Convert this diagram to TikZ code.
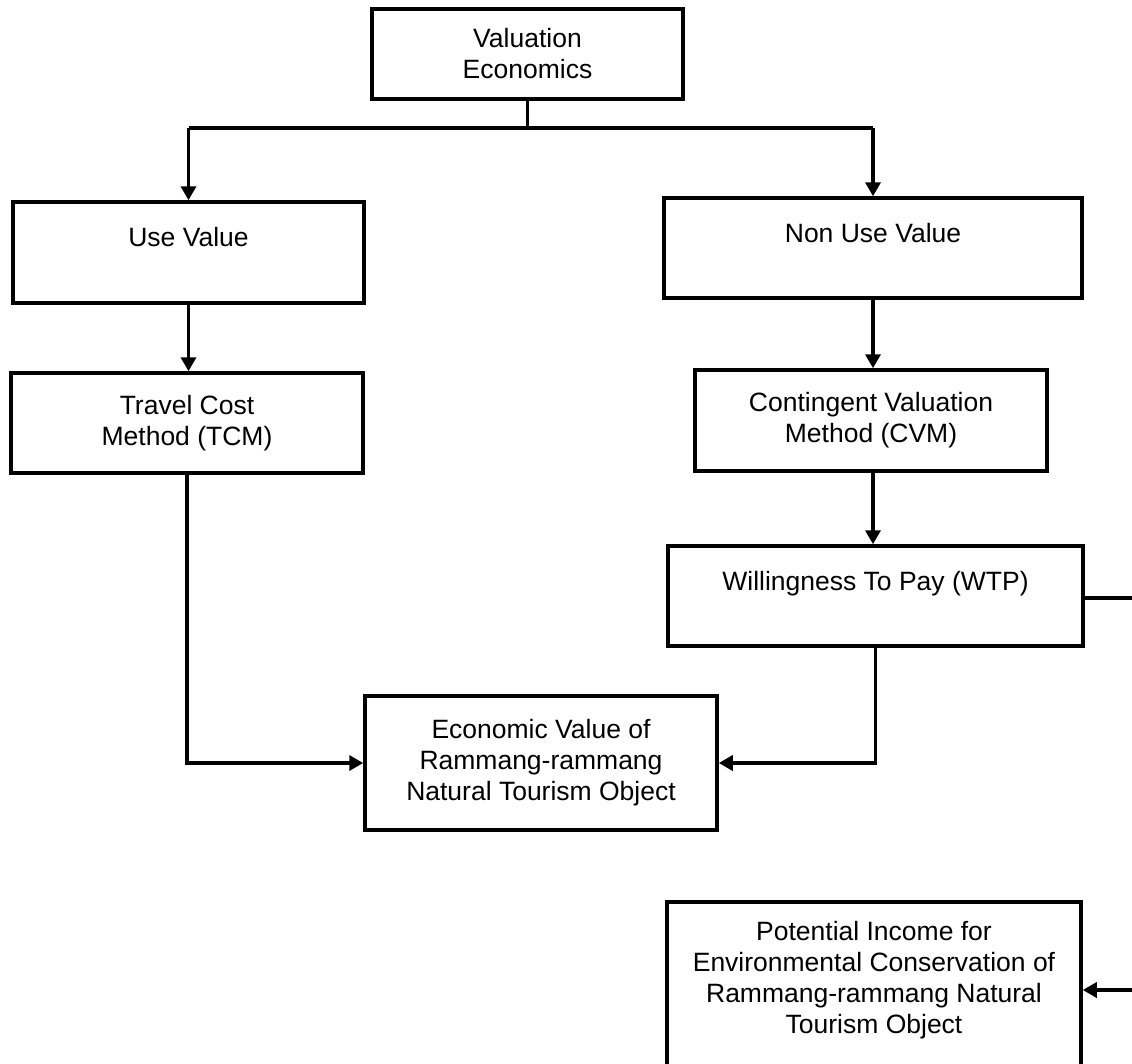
\documentclass[tikz,border=0pt]{standalone}
\usepackage{fontspec}
\setmainfont{Liberation Sans}
\usepackage{tikz}
\usetikzlibrary{arrows.meta,positioning,calc}
\tikzset{blk/.style={draw, rectangle, line width=3.5pt, align=center, inner sep=0pt, font=\fontsize{26.5}{31}\selectfont}}
\tikzstyle{conn}=[line width=3.5pt]

\begin{document}
\begin{tikzpicture}[x=1pt, y=-1pt, >={Triangle[width=15pt,length=14pt]}]
\useasboundingbox (0,0) rectangle (1132,1063);
\clip (0,0) rectangle (1132,1063);
% boxes
\node[blk, minimum width=311pt, minimum height=90pt] (val) at (527.5,54) {Valuation\\Economics};
\node[blk, minimum width=351pt, minimum height=101pt] (use) at (188.5,252.5) {Use Value\\\mbox{}};
\node[blk, minimum width=418pt, minimum height=100pt] (nonuse) at (873,248) {Non Use Value\\\mbox{}};
\node[blk, minimum width=352pt, minimum height=100pt] (tcm) at (187,423) {Travel Cost\\Method (TCM)};
\node[blk, minimum width=352pt, minimum height=101pt] (cvm) at (871,420.5) {Contingent Valuation\\Method (CVM)};
\node[blk, minimum width=415pt, minimum height=100pt] (wtp) at (875.5,596) {Willingness To Pay (WTP)\\\mbox{}};
\node[blk, minimum width=352pt, minimum height=134pt] (econ) at (541,763) {Economic Value of\\Rammang-rammang\\Natural Tourism Object};
\node[blk, minimum width=414pt, minimum height=181pt] (inc) at (874,992.5) {Potential Income for\\Environmental Conservation of\\Rammang-rammang Natural\\Tourism Object\\\mbox{}};
\coordinate (outw) at (1132,598);
\coordinate (outi) at (1132,990);
% connectors
\draw[conn] (val.south) -- ++(0,27) coordinate (split);
\draw[conn] (split -| use.north) -- (split -| nonuse.north);
\draw[conn,->] (split -| use.north) -- (use.north);
\draw[conn,->] (split -| nonuse.north) -- (nonuse.north);
\draw[conn,->] (use.south) -- (use.south |- tcm.north);
\draw[conn,->] (nonuse.south) -- (nonuse.south |- cvm.north);
\draw[conn,->] (nonuse.south |- cvm.south) -- (nonuse.south |- wtp.north);
\draw[conn,->] (tcm.south) |- (econ.west);
\draw[conn,->] (wtp.south) |- (econ.east);
\draw[conn] (wtp.east |- outw) -- (outw);
\draw[conn,->] (outi) -- (outi -| inc.east);
\end{tikzpicture}
\end{document}
